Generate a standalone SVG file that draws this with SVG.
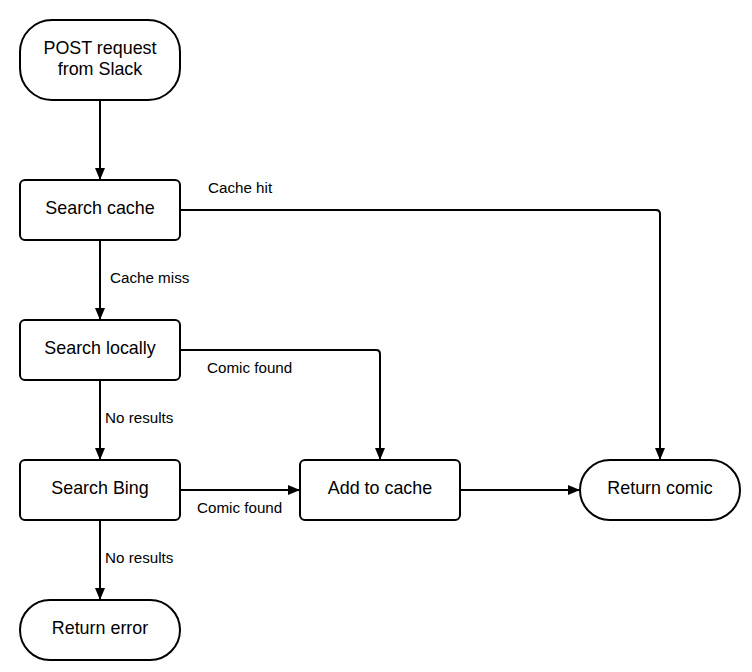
<svg xmlns="http://www.w3.org/2000/svg" width="752" height="672" viewBox="0 0 752 672">
<style>
.n{fill:#fff;stroke:#000;stroke-width:2}
.t{font-family:"Liberation Sans",Arial,sans-serif;font-size:17.9px;text-anchor:middle;fill:#000}
.l{font-family:"Liberation Sans",Arial,sans-serif;font-size:15.2px;fill:#000}
.c{fill:none;stroke:#000;stroke-width:2}
</style>
<defs>
<marker id="a" markerWidth="12" markerHeight="10" refX="12" refY="5" orient="auto" markerUnits="userSpaceOnUse">
<path d="M0,0 L12,5 L0,10 Z" fill="#000"/>
</marker>
</defs>
<rect width="752" height="672" fill="#fff"/>
<g id="connectors">
<path class="c" d="M100,100 V180" marker-end="url(#a)"/>
<path class="c" d="M180,210 H656 Q660,210 660,214 V460" marker-end="url(#a)"/>
<path class="c" d="M100,240 V320" marker-end="url(#a)"/>
<path class="c" d="M180,350 H376 Q380,350 380,354 V460" marker-end="url(#a)"/>
<path class="c" d="M100,380 V460" marker-end="url(#a)"/>
<path class="c" d="M180,490 H300" marker-end="url(#a)"/>
<path class="c" d="M460,490 H580" marker-end="url(#a)"/>
<path class="c" d="M100,520 V600" marker-end="url(#a)"/>
<text class="l" x="208" y="193">Cache hit</text>
<text class="l" x="110" y="283">Cache miss</text>
<text class="l" x="207" y="373">Comic found</text>
<text class="l" x="105" y="423">No results</text>
<text class="l" x="197" y="513">Comic found</text>
<text class="l" x="105" y="563">No results</text>
</g>
<g id="post">
<rect class="n" x="20" y="20" width="160" height="80" rx="32" ry="32"/>
<text class="t" x="100" y="53.5">POST request</text>
<text class="t" x="100" y="75">from Slack</text>
</g>
<g id="search-cache">
<rect class="n" x="20" y="180" width="160" height="60" rx="5"/>
<text class="t" x="100" y="214">Search cache</text>
</g>
<g id="search-locally">
<rect class="n" x="20" y="320" width="160" height="60" rx="5"/>
<text class="t" x="100" y="354">Search locally</text>
</g>
<g id="search-bing">
<rect class="n" x="20" y="460" width="160" height="60" rx="5"/>
<text class="t" x="100" y="494">Search Bing</text>
</g>
<g id="add-cache">
<rect class="n" x="300" y="460" width="160" height="60" rx="5"/>
<text class="t" x="380" y="494">Add to cache</text>
</g>
<g id="return-comic">
<rect class="n" x="580" y="460" width="160" height="60" rx="30" ry="30"/>
<text class="t" x="660" y="494">Return comic</text>
</g>
<g id="return-error">
<rect class="n" x="20" y="600" width="160" height="60" rx="30" ry="30"/>
<text class="t" x="100" y="634">Return error</text>
</g>
</svg>
